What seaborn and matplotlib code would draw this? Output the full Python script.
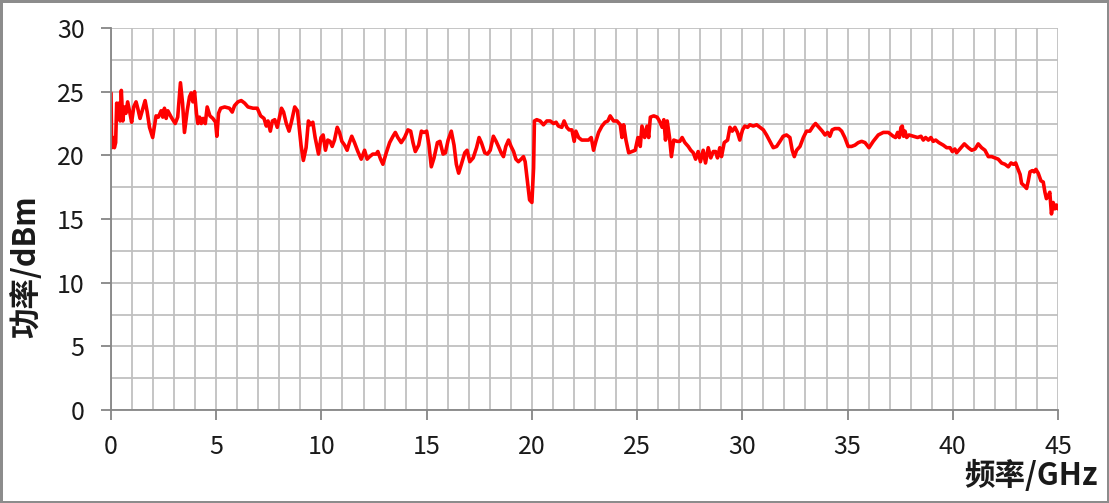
import matplotlib
matplotlib.use('Agg')
import matplotlib.pyplot as plt
import seaborn as sns
import numpy as np
import pandas as pd

# trace, frequency in GHz
freq_ghz = [
    # 0 - 9 GHz
    0.0, 0.03, 0.1, 0.16, 0.22, 0.27, 0.33, 0.38, 0.43, 0.49, 0.56, 0.63, 0.71, 0.79, 0.89, 0.98,
    1.08, 1.19, 1.27, 1.38, 1.5, 1.62, 1.72, 1.83, 1.98, 2.14, 2.25, 2.38, 2.46, 2.54, 2.62, 2.70,
    2.86, 3.05, 3.17, 3.30, 3.40, 3.49, 3.62, 3.73, 3.81, 3.89, 3.97, 4.06, 4.13, 4.21, 4.29, 4.38,
    4.48, 4.57, 4.7, 4.84, 4.97, 5.03, 5.11, 5.21, 5.40, 5.63, 5.76, 5.87, 6.03, 6.19, 6.35, 6.51,
    6.75, 6.95, 7.11, 7.27, 7.38, 7.46, 7.57, 7.67, 7.78, 7.9, 7.98, 8.10, 8.2, 8.33, 8.46, 8.57,
    8.73, 8.86,
    # 9 - 18 GHz
    9.03, 9.14, 9.27, 9.38, 9.48, 9.59, 9.7, 9.86, 9.98, 10.08, 10.19, 10.3, 10.41, 10.51, 10.62,
    10.75, 10.86, 10.97, 11.1, 11.22, 11.33, 11.44, 11.57, 11.73, 11.89, 12.05, 12.17, 12.29, 12.44,
    12.6, 12.68, 12.81, 12.92, 13.08, 13.24, 13.4, 13.51, 13.63, 13.79, 13.95, 14.11, 14.24, 14.35,
    14.46, 14.62, 14.75, 14.87, 15.0, 15.11, 15.22, 15.35, 15.51, 15.63, 15.78, 15.89, 16.02, 16.17,
    16.3, 16.41, 16.52, 16.65, 16.81, 16.92, 17.05, 17.21, 17.37, 17.49, 17.6, 17.76, 17.89,
    # 18 - 27 GHz
    18.02, 18.17, 18.3, 18.41, 18.54, 18.65, 18.76, 18.89, 19.01, 19.13, 19.24, 19.36, 19.49, 19.6,
    19.68, 19.79, 19.89, 20.0, 20.08, 20.12, 20.23, 20.39, 20.55, 20.71, 20.87, 21.03, 21.15, 21.26,
    21.42, 21.53, 21.66, 21.77, 21.9, 22.01, 22.09, 22.22, 22.37, 22.53, 22.69, 22.82, 22.93, 23.04,
    23.17, 23.33, 23.48, 23.61, 23.72, 23.88, 24.04, 24.2, 24.28, 24.36, 24.47, 24.6, 24.75, 24.91,
    25.04, 25.15, 25.23, 25.36, 25.47, 25.55, 25.63, 25.79, 25.95, 26.06, 26.19, 26.27, 26.35, 26.43,
    26.54, 26.63, 26.74, 26.9,
    # 27 - 36 GHz
    27.03, 27.14, 27.27, 27.43, 27.55, 27.67, 27.78, 27.9, 28.01, 28.14, 28.25, 28.38, 28.5, 28.62,
    28.73, 28.82, 28.93, 29.01, 29.14, 29.3, 29.41, 29.52, 29.65, 29.77, 29.88, 30.01, 30.12, 30.25,
    30.36, 30.52, 30.68, 30.84, 31.0, 31.15, 31.31, 31.47, 31.63, 31.79, 31.94, 32.1, 32.26, 32.37,
    32.47, 32.58, 32.74, 32.9, 33.05, 33.21, 33.37, 33.48, 33.64, 33.8, 33.93, 34.05, 34.16, 34.27,
    34.4, 34.59, 34.72, 34.87, 35.03, 35.19, 35.35, 35.51, 35.67, 35.83,
    # 36 - 45 GHz
    36.02, 36.22, 36.46, 36.7, 36.94, 37.17, 37.28, 37.38, 37.46, 37.54, 37.6, 37.66, 37.73, 37.81,
    37.92, 38.12, 38.33, 38.49, 38.6, 38.71, 38.84, 38.96, 39.07, 39.19, 39.34, 39.55, 39.71, 39.87,
    39.98, 40.1, 40.18, 40.34, 40.55, 40.74, 40.9, 41.06, 41.21, 41.37, 41.53, 41.69, 41.85, 42.01,
    42.16, 42.32, 42.48, 42.64, 42.77, 42.88, 42.99, 43.08, 43.2, 43.27, 43.4, 43.51, 43.59, 43.67,
    43.78, 43.87, 43.95, 44.06, 44.19, 44.3, 44.38, 44.45, 44.53, 44.61, 44.69, 44.77, 44.85, 44.93,
    45.0,
]

# power in dBm, same order as freq_ghz
power_dbm = [
    # 0 - 9 GHz
    24.9, 20.6, 21.4, 20.6, 21.0, 24.1, 23.3, 24.1, 22.7, 25.1, 22.7, 23.8, 23.3, 24.2, 23.4, 22.6,
    23.8, 24.2, 23.7, 22.9, 23.6, 24.3, 23.4, 22.2, 21.4, 23.1, 23.0, 23.5, 23.0, 23.7, 22.9, 23.5,
    23.0, 22.5, 23.0, 25.7, 24.1, 21.8, 23.5, 24.6, 24.9, 24.2, 25.0, 23.3, 22.5, 23.0, 22.5, 22.9,
    22.5, 23.8, 23.1, 22.9, 22.6, 21.5, 23.3, 23.7, 23.8, 23.7, 23.4, 23.9, 24.2, 24.3, 24.1, 23.8,
    23.7, 23.7, 23.1, 22.9, 22.3, 22.7, 21.9, 22.7, 22.8, 22.2, 22.8, 23.7, 23.4, 22.5, 21.9, 22.6,
    23.8, 23.5,
    # 9 - 18 GHz
    20.8, 19.6, 20.6, 22.7, 22.4, 22.6, 21.4, 20.1, 21.4, 21.6, 20.4, 21.2, 21.1, 20.7, 21.2,
    22.2, 21.8, 21.1, 20.8, 20.4, 21.0, 21.5, 21.0, 20.3, 19.7, 20.4, 19.7, 19.9, 20.1,
    20.1, 20.3, 19.7, 19.3, 20.2, 21.0, 21.5, 21.8, 21.4, 21.0, 21.4, 22.0, 21.9, 21.0,
    20.3, 20.8, 21.9, 21.8, 21.9, 20.8, 19.1, 19.8, 21.0, 21.1, 20.1, 20.2, 21.2, 21.9,
    20.8, 19.3, 18.6, 19.3, 20.2, 20.4, 19.5, 19.8, 20.6, 21.4, 21.0, 20.2, 20.1,
    # 18 - 27 GHz
    20.4, 21.5, 21.1, 20.7, 20.2, 19.9, 20.7, 21.2, 20.7, 20.3, 19.7, 19.5, 19.7, 19.9,
    19.5, 17.9, 16.5, 16.3, 19.0, 22.7, 22.8, 22.7, 22.4, 22.7, 22.7, 22.5, 22.6, 22.3,
    22.2, 22.7, 22.2, 22.0, 22.0, 21.1, 21.9, 21.4, 21.2, 21.2, 21.2, 21.4, 20.4, 21.1,
    21.8, 22.3, 22.6, 22.7, 23.1, 22.7, 22.7, 22.4, 21.4, 22.4, 21.2, 20.2, 20.3, 20.4,
    21.4, 20.7, 22.3, 21.4, 22.3, 21.4, 23.0, 23.1, 23.0, 22.7, 22.2, 22.8, 21.2, 22.7,
    21.4, 19.9, 21.2, 21.1,
    # 27 - 36 GHz
    21.1, 21.4, 21.0, 20.7, 20.4, 20.2, 19.7, 20.3, 19.5, 20.4, 19.4, 20.6, 19.8, 20.3,
    20.3, 19.8, 20.6, 19.9, 21.0, 21.2, 22.2, 21.9, 22.2, 21.8, 21.2, 22.0, 22.3, 22.2,
    22.4, 22.3, 22.4, 22.2, 22.0, 21.6, 21.1, 20.6, 20.7, 21.1, 21.5, 21.6, 21.4, 20.4,
    19.9, 20.4, 20.7, 21.4, 21.9, 21.9, 22.3, 22.5, 22.2, 21.9, 21.6, 21.8, 21.5, 22.0,
    22.1, 22.1, 21.9, 21.4, 20.7, 20.7, 20.8, 21.0, 21.1, 21.0,
    # 36 - 45 GHz
    20.6, 21.1, 21.6, 21.8, 21.8, 21.5, 21.4, 21.8, 21.4, 22.2, 22.3, 21.5, 21.9, 21.4,
    21.6, 21.5, 21.4, 21.5, 21.2, 21.4, 21.2, 21.4, 21.1, 21.2, 21.0, 20.8, 20.6, 20.6,
    20.3, 20.5, 20.2, 20.5, 20.9, 20.6, 20.4, 20.5, 20.9, 20.6, 20.4, 19.9, 19.9, 19.8,
    19.7, 19.4, 19.3, 19.1, 19.4, 19.3, 19.4, 19.0, 18.5, 17.8, 17.6, 17.4, 18.0, 18.7,
    18.8, 18.7, 18.9, 18.6, 18.0, 17.9, 17.1, 16.6, 16.8, 17.1, 15.4, 16.3, 15.8, 16.1,
    15.8,
]

x_ticks = [0, 5, 10, 15, 20, 25, 30, 35, 40, 45]
y_ticks = [0, 5, 10, 15, 20, 25, 30]

sns.set_theme(style='white')
plt.rcParams['font.family'] = ['Noto Sans CJK SC', 'DejaVu Sans']

df = pd.DataFrame({'freq': freq_ghz, 'power': power_dbm})

fig = plt.figure(figsize=(11.09, 5.03), dpi=100, edgecolor='#8c8c8c', linewidth=2.5)
ax = fig.add_axes([0.1001, 0.1849, 0.8539, 0.7594])

grid_color = '#c0c0c0'
axis_color = '#868686'

# minor grid: every 1 GHz and every 2.5 dBm
ax.set_xticks(np.arange(0, 46, 1), minor=True)
ax.set_yticks(np.arange(0, 31, 2.5), minor=True)
ax.grid(True, which='both', color=grid_color, linewidth=1.3)
ax.set_axisbelow(True)

sns.lineplot(data=df, x='freq', y='power', ax=ax, color='#ff0000', linewidth=2.6)

ax.set_xlim(0, 45)
ax.set_ylim(0, 30)
ax.set_xticks(x_ticks)
ax.set_yticks(y_ticks)
ax.set_xticklabels([str(t) for t in x_ticks])
ax.set_yticklabels([str(t) for t in y_ticks])

for side in ['top', 'right']:
    ax.spines[side].set_visible(False)
for side in ['left', 'bottom']:
    ax.spines[side].set_color(axis_color)
    ax.spines[side].set_linewidth(1.3)

ax.tick_params(axis='both', which='major', direction='out', length=7, width=1.3,
               color=axis_color, labelsize=18, labelcolor='#1a1a1a')
ax.tick_params(axis='x', which='major', pad=10, bottom=True)
ax.tick_params(axis='y', which='major', pad=12, left=True)
ax.tick_params(axis='both', which='minor', length=0)

ax.set_xlabel('频率/GHz', fontsize=22, fontweight='bold', color='#1a1a1a', ha='right', va='center')
ax.xaxis.set_label_coords(1.042, -0.173)
ax.set_ylabel('功率/dBm', fontsize=22, fontweight='bold', color='#1a1a1a', ha='center', va='center')
ax.yaxis.set_label_coords(-0.0898, 0.374)

fig.savefig('out.png', dpi=100)
